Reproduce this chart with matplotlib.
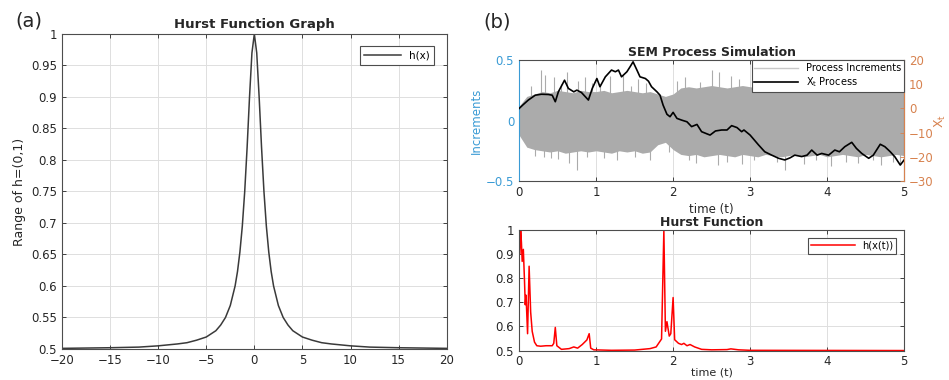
import matplotlib
matplotlib.use("Agg")
import matplotlib.pyplot as plt

# ---- panel (a): Hurst function h(x) ----
hx = [-20, -15, -12, -10, -8, -7, -6, -5, -4, -3.5, -3, -2.5, -2, -1.75, -1.5, -1.25, -1, -0.75, -0.5, -0.25, 0,
      0.25, 0.5, 0.75, 1, 1.25, 1.5, 1.75, 2, 2.5, 3, 3.5, 4, 5, 6, 7, 8, 10, 12, 15, 20]
hy = [0.501, 0.502, 0.503, 0.505, 0.508, 0.510, 0.514, 0.519, 0.529, 0.538, 0.55, 0.569, 0.6, 0.623, 0.654, 0.695,
      0.75, 0.82, 0.9, 0.97, 1.0,
      0.97, 0.9, 0.82, 0.75, 0.695, 0.654, 0.623, 0.6, 0.569, 0.55, 0.538, 0.529, 0.519, 0.514, 0.510, 0.508,
      0.505, 0.503, 0.502, 0.501]

# ---- panel (b) top: increments band (envelope read every 0.1 s) ----
env_t = [i / 10 for i in range(51)]
env_up = [0.12, 0.20, 0.22, 0.24, 0.23, 0.25, 0.24, 0.23, 0.25, 0.24,
          0.24, 0.25, 0.23, 0.24, 0.25, 0.24, 0.23, 0.24, 0.22, 0.20,
          0.22, 0.27, 0.28, 0.27, 0.28, 0.29, 0.28, 0.27, 0.28, 0.29,
          0.28, 0.27, 0.29, 0.28, 0.28, 0.27, 0.29, 0.28, 0.27, 0.28,
          0.29, 0.28, 0.27, 0.28, 0.29, 0.28, 0.27, 0.28, 0.28, 0.29, 0.28]
env_lo = [-0.12, -0.22, -0.24, -0.25, -0.26, -0.25, -0.27, -0.26, -0.25, -0.26,
          -0.25, -0.26, -0.27, -0.25, -0.26, -0.25, -0.27, -0.26, -0.20, -0.18,
          -0.24, -0.28, -0.29, -0.28, -0.30, -0.29, -0.28, -0.29, -0.30, -0.28,
          -0.29, -0.30, -0.28, -0.29, -0.30, -0.29, -0.28, -0.30, -0.29, -0.28,
          -0.30, -0.29, -0.28, -0.29, -0.30, -0.28, -0.29, -0.30, -0.29, -0.28, -0.29]
spike_t = [0.29, 0.34, 0.45, 0.62, 0.77, 0.85, 1.18, 1.35, 1.55, 2.15, 2.5, 2.6, 2.75, 3.1, 3.3, 3.6, 3.9, 4.2, 4.5, 4.8,
           0.32, 0.51, 0.65, 0.75, 1.27, 1.7, 2.3, 2.58, 2.9, 3.45, 3.7, 4.05, 4.4, 4.7, 4.95,
           0.15, 0.55, 0.95, 1.05, 1.45, 1.65, 2.05, 2.35, 2.85, 3.2, 3.5, 3.75, 4.1, 4.35, 4.65, 4.9,
           0.2, 0.42, 0.88, 1.1, 1.5, 1.95, 2.2, 2.7, 3.05, 3.35, 3.85, 4.25, 4.6, 4.85]
spike_v = [0.42, 0.38, 0.36, 0.40, 0.33, 0.36, 0.37, 0.38, 0.34, 0.36, 0.42, 0.40, 0.37, 0.38, 0.36, 0.39, 0.35, 0.37, 0.36, 0.38,
           -0.30, -0.32, -0.35, -0.41, -0.33, -0.33, -0.35, -0.37, -0.36, -0.41, -0.36, -0.38, -0.35, -0.37, -0.36,
           0.29, 0.30, 0.31, 0.30, 0.29, 0.31, 0.33, 0.32, 0.34, 0.33, 0.32, 0.34, 0.33, 0.32, 0.34, 0.33,
           -0.29, -0.31, -0.30, -0.31, -0.30, -0.26, -0.33, -0.34, -0.33, -0.34, -0.33, -0.34, -0.33, -0.34]

# X_t process (right axis)
xt_t = [0, 0.05, 0.12, 0.21, 0.29, 0.38, 0.43, 0.47, 0.51, 0.59, 0.64, 0.71, 0.75, 0.81, 0.90, 0.95, 1.01, 1.05,
        1.12, 1.20, 1.25, 1.29, 1.33, 1.40, 1.44, 1.48, 1.53, 1.57, 1.64, 1.68, 1.72, 1.79, 1.83, 1.87, 1.92, 1.96,
        2.00, 2.05, 2.11, 2.18, 2.24, 2.31, 2.37, 2.44, 2.48, 2.55, 2.63, 2.70, 2.76, 2.83, 2.89, 2.92, 3.00, 3.11,
        3.19, 3.28, 3.37, 3.45, 3.52, 3.58, 3.67, 3.74, 3.80, 3.87, 3.93, 4.02, 4.10, 4.16, 4.23, 4.32, 4.38, 4.45,
        4.54, 4.60, 4.69, 4.75, 4.82, 4.88, 4.95, 5.0]
xt_v = [0, 1.5, 3.5, 5.5, 5.9, 5.8, 5.5, 2.8, 6.9, 11.7, 8.3, 6.9, 7.6, 6.6, 3.5, 8.3, 12.4, 9.0,
        13.1, 15.9, 15.2, 15.9, 13.1, 15.2, 17.2, 19.3, 15.9, 13.1, 12.4, 11.3, 9.0, 6.9, 5.5, 1.4, -2.4, -3.4,
        -1.6, -4.1, -4.8, -5.5, -7.5, -6.6, -9.6, -10.5, -11, -9.3, -8.9, -8.9, -7.1, -7.9, -9.6, -8.9, -11, -15.1,
        -17.9, -19.3, -20.6, -21.3, -20.4, -19.3, -19.9, -19.3, -17.2, -19.3, -18.6, -19.3, -17.2, -17.9, -15.8, -14, -16.5, -18.6,
        -20.6, -19.3, -14.8, -15.8, -17.9, -20, -23.4, -21.3]

# ---- panel (b) bottom: h(x(t)) ----
ht_t = [0, 0.01, 0.02, 0.03, 0.04, 0.055, 0.07, 0.08, 0.09, 0.11, 0.13, 0.15, 0.17, 0.2, 0.23, 0.28, 0.35,
        0.43, 0.45, 0.47, 0.49, 0.55, 0.65, 0.71, 0.76, 0.82, 0.88, 0.91, 0.93, 0.97, 1.2, 1.5, 1.7, 1.78,
        1.85, 1.88, 1.9, 1.92, 1.95, 1.97, 2.0, 2.02, 2.07, 2.11, 2.14, 2.18, 2.22, 2.28, 2.37, 2.5, 2.7,
        2.75, 2.85, 3.0, 5.0]
ht_v = [1.0, 0.9, 1.0, 0.95, 0.87, 0.92, 0.79, 0.69, 0.73, 0.57, 0.85, 0.66, 0.58, 0.535, 0.52, 0.518, 0.52,
        0.52, 0.53, 0.596, 0.52, 0.505, 0.508, 0.515, 0.51, 0.525, 0.544, 0.57, 0.51, 0.503, 0.501, 0.502, 0.508, 0.515,
        0.548, 1.0, 0.58, 0.62, 0.56, 0.57, 0.72, 0.545, 0.53, 0.525, 0.53, 0.52, 0.525, 0.515, 0.505, 0.503, 0.504,
        0.507, 0.503, 0.501, 0.5]

BLUE = "#3a9bd5"
ORANGE = "#d7824f"
SPINE = "#4d4d4d"
GRID = "#dedede"
TXT = "#262626"


def style(ax, xgrid=True, ygrid=True):
    ax.tick_params(direction="in", top=True, right=True, length=3, labelsize=8.5,
                   colors=TXT, width=0.6)
    for s in ax.spines.values():
        s.set_color(SPINE)
        s.set_linewidth(0.8)
    if xgrid:
        ax.grid(True, axis="x", color=GRID, lw=0.7)
    if ygrid:
        ax.grid(True, axis="y", color=GRID, lw=0.7)
    ax.set_axisbelow(True)


fig = plt.figure(figsize=(9.49, 3.8), dpi=100)

# (a)
ax1 = fig.add_axes([0.0653, 0.0816, 0.4054, 0.829])
ax1.plot(hx, hy, color="#3a3a3a", lw=1.1, label="h(x)")
ax1.set_xlim(-20, 20)
ax1.set_ylim(0.5, 1)
ax1.set_xticks(range(-20, 21, 5))
ax1.set_yticks([0.5, 0.55, 0.6, 0.65, 0.7, 0.75, 0.8, 0.85, 0.9, 0.95, 1])
ax1.set_yticklabels(["0.5", "0.55", "0.6", "0.65", "0.7", "0.75", "0.8", "0.85", "0.9", "0.95", "1"])
style(ax1)
ax1.set_title("Hurst Function Graph", fontsize=9.5, fontweight="bold", pad=4, color=TXT)
ax1.set_ylabel("Range of h=(0,1)", fontsize=9, color=TXT, labelpad=4)
leg = ax1.legend(loc="upper right", fontsize=7.5, handlelength=3.5, fancybox=False,
                 borderaxespad=1.2, framealpha=1)
leg.get_frame().set_edgecolor(SPINE)
leg.get_frame().set_linewidth(0.8)

# (b) top
ax2 = fig.add_axes([0.547, 0.5237, 0.4057, 0.318])
ax2.fill_between(env_t, env_lo, env_up, color="#ababab", lw=0)
ax2.vlines(spike_t, 0, spike_v, color="#ababab", lw=0.8)
ax2.plot([], [], color="#c8c8c8", lw=1, label="Process Increments")
ax2.set_xlim(0, 5)
ax2.set_ylim(-0.5, 0.5)
ax2.set_yticks([-0.5, 0, 0.5])
ax2.set_yticklabels(["\u22120.5", "0", "0.5"])
style(ax2, ygrid=False)
ax2.tick_params(axis="y", colors=BLUE, right=False)
ax2.spines["left"].set_color(BLUE)
ax2.set_ylabel("Increments", color=BLUE, fontsize=8.5, labelpad=2)
ax2.set_xlabel("time (t)", fontsize=8.5, color=TXT, labelpad=3)
ax2.set_title("SEM Process Simulation", fontsize=9, fontweight="bold", pad=3, color=TXT)

ax3 = ax2.twinx()
ax3.plot(xt_t, xt_v, color="black", lw=1.2, label="X$_{\\rm t}$ Process")
ax3.set_ylim(-30, 20)
ax3.set_yticks(range(-30, 21, 10))
ax3.set_yticklabels(["\u221230", "\u221220", "\u221210", "0", "10", "20"])
ax3.tick_params(direction="in", length=3, labelsize=8.5, colors=ORANGE, width=0.6)
for s in ax3.spines.values():
    s.set_visible(False)
ax3.spines["right"].set_visible(True)
ax3.spines["right"].set_color(ORANGE)
ax3.set_ylabel("X$_{\\rm t}$", color=ORANGE, fontsize=9, rotation=90)
ax3.yaxis.set_label_coords(1.075, 0.5)
h1, l1 = ax2.get_legend_handles_labels()
h2, l2 = ax3.get_legend_handles_labels()
leg2 = ax3.legend(h1 + h2, l1 + l2, loc="upper right", fontsize=7, handlelength=4.5,
                  fancybox=False, borderaxespad=0, framealpha=1, borderpad=0.3, labelspacing=0.2)
leg2.get_frame().set_edgecolor(SPINE)
leg2.get_frame().set_linewidth(0.8)

# (b) bottom
ax4 = fig.add_axes([0.547, 0.0775, 0.4057, 0.317])
ax4.plot(ht_t, ht_v, color="#ff0000", lw=1.1, label="h(x(t))")
ax4.set_xlim(0, 5)
ax4.set_ylim(0.5, 1)
ax4.set_yticks([0.5, 0.6, 0.7, 0.8, 0.9, 1])
ax4.set_yticklabels(["0.5", "0.6", "0.7", "0.8", "0.9", "1"])
style(ax4)
ax4.set_title("Hurst Function", fontsize=9, fontweight="bold", pad=3, color=TXT)
ax4.set_xlabel("time (t)", fontsize=8, color=TXT, labelpad=-1)
leg4 = ax4.legend(loc="upper right", fontsize=7, handlelength=4.5, fancybox=False,
                  borderaxespad=0.8, framealpha=1, borderpad=0.3)
leg4.get_frame().set_edgecolor(SPINE)
leg4.get_frame().set_linewidth(0.8)

fig.text(0.016, 0.945, "(a)", fontsize=14, color=TXT, va="center")
fig.text(0.509, 0.942, "(b)", fontsize=14, color=TXT, va="center")

fig.savefig("out.png", dpi=100)
